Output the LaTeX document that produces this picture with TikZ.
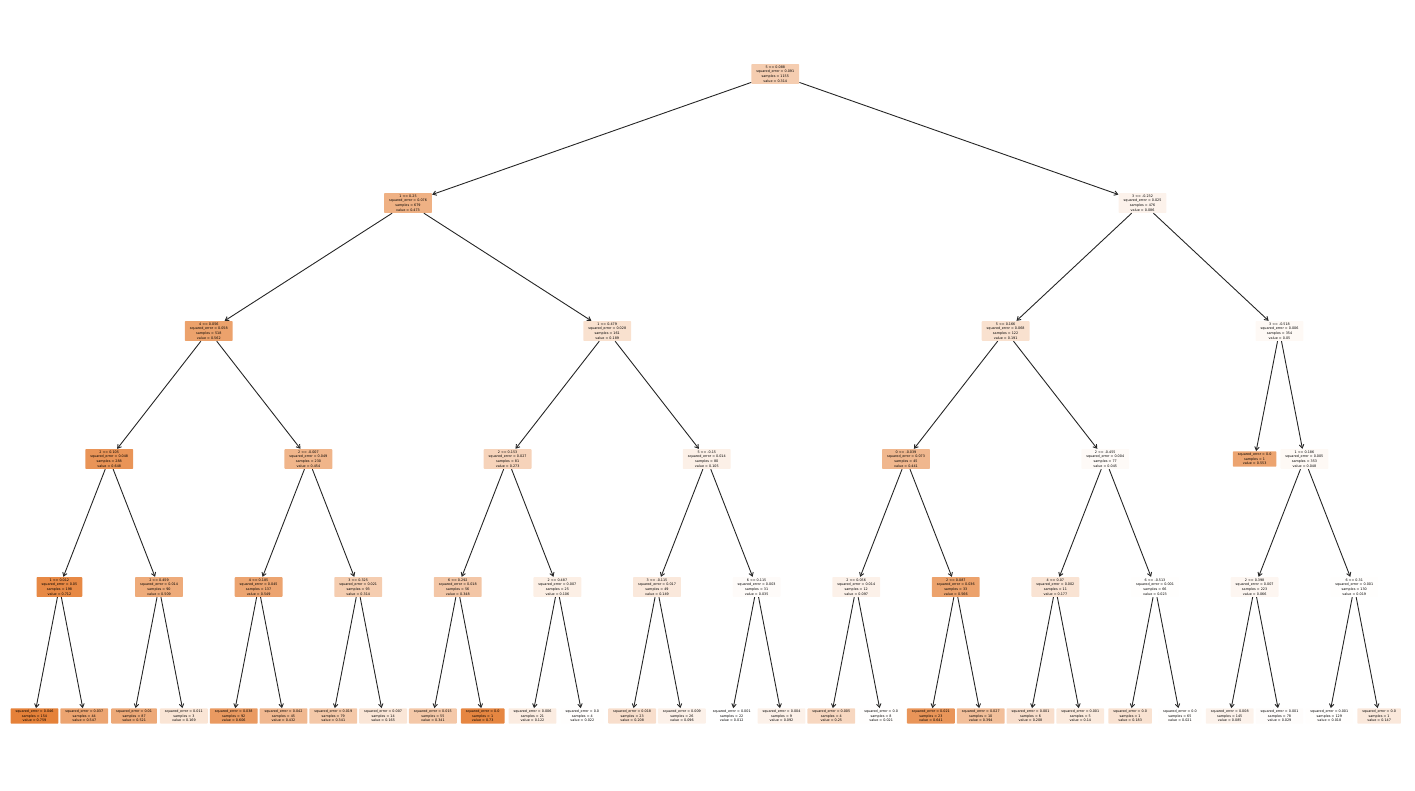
\documentclass[tikz,border=0pt]{standalone}
\usepackage{fontspec}
\setmainfont{DejaVu Sans}
\usetikzlibrary{arrows.meta}
\definecolor{tor}{RGB}{229,129,57}
% #1 name, #2 horizontal slot, #3 vertical position, #4 leading lines, #5 value
% fill strength follows the node value between the tree minimum and maximum
\newcommand\treenode[5]{%
  \pgfmathtruncatemacro\fillpct{round((#5-0.012)/0.747*100)}%
  \node[tbox, fill=tor!\fillpct!white] (#1) at (#2,#3) {#4\\value = #5};}
\begin{document}
\begin{tikzpicture}[x=49.8pt, y=-1pt,
  tbox/.style={rounded corners=0.8pt, align=center, text=black,
    font=\fontsize{3.35}{4.6}\selectfont, inner xsep=5pt, inner ysep=1.8pt},
  edge/.style={draw=black!85, line width=0.9pt,
    -{Straight Barb[length=3.5pt,width=4.5pt]}}]
\useasboundingbox (-0.69277,0) rectangle (27.7209,790);

% depth 0
\treenode{r}{14.875}{74}{5 <= 0.088\\squared\_error = 0.091\\samples = 1155}{0.314}
% depth 1
\treenode{a}{7.5}{203}{1 <= 0.25\\squared\_error = 0.076\\samples = 679}{0.473}
\treenode{b}{22.25}{203}{3 <= -0.232\\squared\_error = 0.025\\samples = 476}{0.086}
% depth 2
\treenode{aa}{3.5}{331}{4 <= 0.056\\squared\_error = 0.058\\samples = 518}{0.562}
\treenode{ab}{11.5}{331}{1 <= 0.479\\squared\_error = 0.028\\samples = 161}{0.189}
\treenode{ba}{19.5}{331}{5 <= 0.166\\squared\_error = 0.068\\samples = 122}{0.191}
\treenode{bb}{25}{331}{3 <= -0.518\\squared\_error = 0.006\\samples = 354}{0.05}
% depth 3
\treenode{aaa}{1.5}{459}{2 <= 0.105\\squared\_error = 0.048\\samples = 288}{0.648}
\treenode{aab}{5.5}{459}{2 <= -0.007\\squared\_error = 0.049\\samples = 230}{0.454}
\treenode{aba}{9.5}{459}{2 <= 0.153\\squared\_error = 0.027\\samples = 81}{0.273}
\treenode{abb}{13.5}{459}{5 <= -0.15\\squared\_error = 0.014\\samples = 80}{0.105}
\treenode{baa}{17.5}{459}{0 <= -0.039\\squared\_error = 0.073\\samples = 45}{0.441}
\treenode{bab}{21.5}{459}{2 <= -0.455\\squared\_error = 0.004\\samples = 77}{0.045}
\treenode{bba}{24.5}{459}{squared\_error = 0.0\\samples = 1}{0.553}
\treenode{bbb}{25.5}{459}{1 <= 0.186\\squared\_error = 0.005\\samples = 353}{0.048}
% depth 4
\treenode{aaaa}{0.5}{587}{1 <= 0.012\\squared\_error = 0.05\\samples = 198}{0.712}
\treenode{aaab}{2.5}{587}{2 <= 0.459\\squared\_error = 0.014\\samples = 90}{0.509}
\treenode{aaba}{4.5}{587}{4 <= 0.185\\squared\_error = 0.045\\samples = 137}{0.549}
\treenode{aabb}{6.5}{587}{3 <= 0.325\\squared\_error = 0.021\\samples = 93}{0.314}
\treenode{abaa}{8.5}{587}{6 <= 0.292\\squared\_error = 0.018\\samples = 56}{0.348}
\treenode{abab}{10.5}{587}{2 <= 0.487\\squared\_error = 0.007\\samples = 25}{0.106}
\treenode{abba}{12.5}{587}{3 <= -0.115\\squared\_error = 0.017\\samples = 49}{0.149}
\treenode{abbb}{14.5}{587}{6 <= 0.115\\squared\_error = 0.003\\samples = 31}{0.035}
\treenode{baaa}{16.5}{587}{2 <= 0.056\\squared\_error = 0.014\\samples = 12}{0.097}
\treenode{baab}{18.5}{587}{2 <= 0.087\\squared\_error = 0.036\\samples = 33}{0.566}
\treenode{baba}{20.5}{587}{4 <= 0.07\\squared\_error = 0.002\\samples = 11}{0.177}
\treenode{babb}{22.5}{587}{6 <= -0.513\\squared\_error = 0.001\\samples = 66}{0.023}
\treenode{bbba}{24.5}{587}{2 <= 0.398\\squared\_error = 0.007\\samples = 223}{0.066}
\treenode{bbbb}{26.5}{587}{6 <= 0.31\\squared\_error = 0.001\\samples = 130}{0.019}
% depth 5 (leaves)
\treenode{l0}{0}{716}{squared\_error = 0.046\\samples = 154}{0.759}
\treenode{l1}{1}{716}{squared\_error = 0.037\\samples = 44}{0.547}
\treenode{l2}{2}{716}{squared\_error = 0.01\\samples = 87}{0.521}
\treenode{l3}{3}{716}{squared\_error = 0.011\\samples = 3}{0.169}
\treenode{l4}{4}{716}{squared\_error = 0.038\\samples = 92}{0.606}
\treenode{l5}{5}{716}{squared\_error = 0.042\\samples = 45}{0.432}
\treenode{l6}{6}{716}{squared\_error = 0.019\\samples = 79}{0.341}
\treenode{l7}{7}{716}{squared\_error = 0.007\\samples = 14}{0.165}
\treenode{l8}{8}{716}{squared\_error = 0.015\\samples = 55}{0.341}
\treenode{l9}{9}{716}{squared\_error = 0.0\\samples = 1}{0.73}
\treenode{l10}{10}{716}{squared\_error = 0.006\\samples = 21}{0.122}
\treenode{l11}{11}{716}{squared\_error = 0.0\\samples = 4}{0.022}
\treenode{l12}{12}{716}{squared\_error = 0.018\\samples = 23}{0.208}
\treenode{l13}{13}{716}{squared\_error = 0.009\\samples = 26}{0.096}
\treenode{l14}{14}{716}{squared\_error = 0.001\\samples = 22}{0.012}
\treenode{l15}{15}{716}{squared\_error = 0.004\\samples = 9}{0.092}
\treenode{l16}{16}{716}{squared\_error = 0.005\\samples = 4}{0.25}
\treenode{l17}{17}{716}{squared\_error = 0.0\\samples = 8}{0.021}
\treenode{l18}{18}{716}{squared\_error = 0.021\\samples = 23}{0.641}
\treenode{l19}{19}{716}{squared\_error = 0.027\\samples = 10}{0.394}
\treenode{l20}{20}{716}{squared\_error = 0.001\\samples = 6}{0.208}
\treenode{l21}{21}{716}{squared\_error = 0.001\\samples = 5}{0.14}
\treenode{l22}{22}{716}{squared\_error = 0.0\\samples = 1}{0.183}
\treenode{l23}{23}{716}{squared\_error = 0.0\\samples = 65}{0.021}
\treenode{l24}{24}{716}{squared\_error = 0.008\\samples = 145}{0.085}
\treenode{l25}{25}{716}{squared\_error = 0.001\\samples = 78}{0.029}
\treenode{l26}{26}{716}{squared\_error = 0.001\\samples = 129}{0.018}
\treenode{l27}{27}{716}{squared\_error = 0.0\\samples = 1}{0.147}

% parent -> child connectors
\foreach \p/\c in {r/a, r/b, a/aa, a/ab, b/ba, b/bb,
    aa/aaa, aa/aab, ab/aba, ab/abb, ba/baa, ba/bab, bb/bba, bb/bbb,
    aaa/aaaa, aaa/aaab, aab/aaba, aab/aabb, aba/abaa, aba/abab,
    abb/abba, abb/abbb, baa/baaa, baa/baab, bab/baba, bab/babb,
    bbb/bbba, bbb/bbbb,
    aaaa/l0, aaaa/l1, aaab/l2, aaab/l3, aaba/l4, aaba/l5, aabb/l6, aabb/l7,
    abaa/l8, abaa/l9, abab/l10, abab/l11, abba/l12, abba/l13, abbb/l14, abbb/l15,
    baaa/l16, baaa/l17, baab/l18, baab/l19, baba/l20, baba/l21, babb/l22, babb/l23,
    bbba/l24, bbba/l25, bbbb/l26, bbbb/l27}
  \draw[edge] (\p) -- (\c);
\end{tikzpicture}
\end{document}
